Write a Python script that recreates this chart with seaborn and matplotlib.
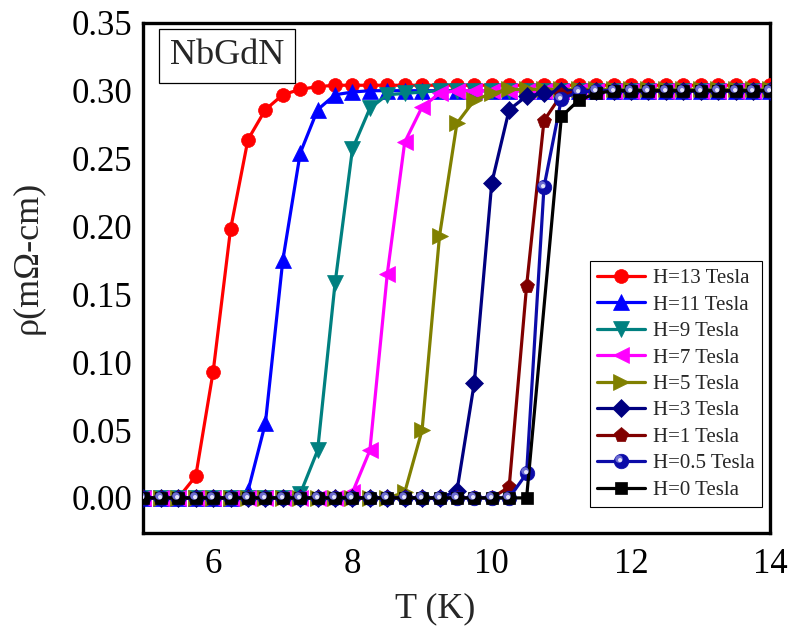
import matplotlib
matplotlib.use("Agg")
import matplotlib.pyplot as plt
import seaborn as sns
from matplotlib.ticker import MultipleLocator, FormatStrFormatter
from matplotlib.legend_handler import HandlerTuple
from matplotlib.path import Path

sns.set_style("white")
plt.rcParams["font.family"] = ["Liberation Serif", "DejaVu Serif"]

# ---------------- data ----------------
T = [5.0, 5.25, 5.5, 5.75, 6.0, 6.25, 6.5, 6.75, 7.0, 7.25, 7.5, 7.75, 8.0,
     8.25, 8.5, 8.75, 9.0, 9.25, 9.5, 9.75, 10.0, 10.25, 10.5, 10.75, 11.0,
     11.25, 11.5, 11.75, 12.0, 12.25, 12.5, 12.75, 13.0, 13.25, 13.5, 13.75, 14.0]

rho_13 = [0.0, 0.0, 0.0, 0.016, 0.093, 0.198, 0.264, 0.286, 0.297, 0.301, 0.303,
          0.304, 0.304, 0.304, 0.304, 0.304, 0.304, 0.304, 0.304, 0.304, 0.304,
          0.304, 0.304, 0.304, 0.304, 0.304, 0.304, 0.304, 0.304, 0.304, 0.304,
          0.304, 0.304, 0.304, 0.304, 0.304, 0.304]
rho_11 = [0.0, 0.0, 0.0, 0.0, 0.0, 0.0, 0.005, 0.055, 0.175, 0.254, 0.286, 0.297,
          0.299, 0.300, 0.300, 0.300, 0.300, 0.300, 0.300, 0.300, 0.300, 0.300,
          0.300, 0.300, 0.300, 0.300, 0.300, 0.300, 0.300, 0.300, 0.300, 0.300,
          0.300, 0.300, 0.300, 0.300, 0.300]
rho_9 = [0.0, 0.0, 0.0, 0.0, 0.0, 0.0, 0.0, 0.0, 0.0, 0.003, 0.035, 0.158, 0.257,
         0.287, 0.297, 0.298, 0.299, 0.300, 0.300, 0.300, 0.300, 0.300, 0.300,
         0.300, 0.300, 0.300, 0.300, 0.300, 0.300, 0.300, 0.300, 0.300, 0.300,
         0.300, 0.300, 0.300, 0.300]
rho_7 = [0.0, 0.0, 0.0, 0.0, 0.0, 0.0, 0.0, 0.0, 0.0, 0.0, 0.0, 0.0, 0.004, 0.035,
         0.165, 0.262, 0.288, 0.298, 0.300, 0.300, 0.300, 0.300, 0.300, 0.300,
         0.300, 0.300, 0.300, 0.300, 0.300, 0.300, 0.300, 0.300, 0.300, 0.300,
         0.300, 0.300, 0.300]
rho_5 = [0.0, 0.0, 0.0, 0.0, 0.0, 0.0, 0.0, 0.0, 0.0, 0.0, 0.0, 0.0, 0.0, 0.0,
         0.0, 0.004, 0.050, 0.193, 0.276, 0.293, 0.298, 0.301, 0.301, 0.301,
         0.301, 0.301, 0.301, 0.301, 0.301, 0.301, 0.301, 0.301, 0.301, 0.301,
         0.301, 0.301, 0.301]
rho_3 = [0.0, 0.0, 0.0, 0.0, 0.0, 0.0, 0.0, 0.0, 0.0, 0.0, 0.0, 0.0, 0.0, 0.0,
         0.0, 0.0, 0.0, 0.0, 0.005, 0.085, 0.232, 0.286, 0.296, 0.298, 0.300,
         0.300, 0.300, 0.300, 0.300, 0.300, 0.300, 0.300, 0.300, 0.300, 0.300,
         0.300, 0.300]
rho_1 = [0.0, 0.0, 0.0, 0.0, 0.0, 0.0, 0.0, 0.0, 0.0, 0.0, 0.0, 0.0, 0.0, 0.0,
         0.0, 0.0, 0.0, 0.0, 0.0, 0.0, 0.0, 0.008, 0.156, 0.278, 0.297, 0.300,
         0.300, 0.300, 0.300, 0.300, 0.300, 0.300, 0.300, 0.300, 0.300, 0.300,
         0.300]
rho_05 = [0.0, 0.0, 0.0, 0.0, 0.0, 0.0, 0.0, 0.0, 0.0, 0.0, 0.0, 0.0, 0.0, 0.0,
          0.0, 0.0, 0.0, 0.0, 0.0, 0.0, 0.0, 0.0, 0.018, 0.229, 0.294, 0.299,
          0.300, 0.300, 0.300, 0.300, 0.300, 0.300, 0.300, 0.300, 0.300, 0.300,
          0.300]
T_0 = [5.0, 5.25, 5.5, 5.75, 6.0, 6.25, 6.5, 6.75, 7.0, 7.25, 7.5, 7.75, 8.0,
       8.25, 8.5, 8.75, 9.0, 9.25, 9.5, 9.75, 10.0, 10.25, 10.5, 11.0, 11.25,
       11.5, 11.75, 12.0, 12.25, 12.5, 12.75, 13.0, 13.25, 13.5, 13.75, 14.0]
rho_0 = [0.0, 0.0, 0.0, 0.0, 0.0, 0.0, 0.0, 0.0, 0.0, 0.0, 0.0, 0.0, 0.0, 0.0,
         0.0, 0.0, 0.0, 0.0, 0.0, 0.0, 0.0, 0.0, 0.0, 0.281, 0.293, 0.298,
         0.300, 0.300, 0.300, 0.300, 0.300, 0.300, 0.300, 0.300, 0.300, 0.300]

labels = ["H=13 Tesla", "H=11 Tesla", "H=9 Tesla", "H=7 Tesla", "H=5 Tesla",
          "H=3 Tesla", "H=1 Tesla", "H=0.5 Tesla", "H=0 Tesla"]
colors = ["#ff0000", "#0000ff", "#008080", "#ff00ff", "#808000",
          "#000080", "#800000", "#0c0ca8", "#000000"]
markers = ["o", "^", "v", "<", ">", "D", "p", "o", "s"]
msizes = [10, 11, 11, 11, 11, 9, 11, 10.5, 8.5]
xs = [T, T, T, T, T, T, T, T, T_0]
ys = [rho_13, rho_11, rho_9, rho_7, rho_5, rho_3, rho_1, rho_05, rho_0]

# ---------------- figure ----------------
fig = plt.figure(figsize=(7.95, 6.34), dpi=100)
ax = fig.add_axes([0.1805, 0.159, 0.969 - 0.1805, 0.964 - 0.159])

draw_order = [0, 1, 2, 3, 4, 5, 6, 8, 7]
handles = [None] * 9
for i in draw_order:
    sns.lineplot(x=xs[i], y=ys[i], ax=ax, color=colors[i], marker=markers[i],
                 markersize=msizes[i], markeredgecolor=colors[i],
                 markeredgewidth=0.5, linewidth=2.3, legend=False,
                 zorder=3 + i)
    handles[i] = ax.lines[-1]

# sphere highlight for H=0.5 Tesla markers
hl_path = Path.circle(center=(-0.12, 0.12), radius=0.18)
halo = ax.plot(T, rho_05, linestyle="None", marker=hl_path, markersize=9,
               color="#6c6cd2", markeredgewidth=0, zorder=20)[0]
spot = ax.plot(T, rho_05, linestyle="None", marker=hl_path, markersize=5,
               color="#e6e6f8", markeredgewidth=0, zorder=21)[0]
handles[7] = (handles[7], halo, spot)

ax.set_xlim(5, 14)
ax.set_ylim(-0.026, 0.35)
ax.xaxis.set_major_locator(MultipleLocator(2))
ax.xaxis.set_minor_locator(MultipleLocator(0.4))
ax.yaxis.set_major_locator(MultipleLocator(0.05))
ax.yaxis.set_minor_locator(MultipleLocator(0.01))
ax.yaxis.set_major_formatter(FormatStrFormatter("%.2f"))
ax.tick_params(which="both", direction="in", top=False, right=False,
               width=2.2, labelsize=25, colors="black")
ax.tick_params(which="major", length=6.5)
ax.tick_params(which="minor", length=3.5)
ax.tick_params(axis="y", which="major", pad=8)
ax.tick_params(axis="x", which="major", pad=11)
for s in ax.spines.values():
    s.set_linewidth(2.4)
    s.set_color("black")

ax.set_xlabel("T (K)", fontsize=26)
ax.xaxis.set_label_coords(0.465, -0.115)
ax.set_ylabel("ρ(mΩ-cm)", fontsize=26)
ax.yaxis.set_label_coords(-0.157, 0.541)

ax.text(0.133, 0.935, "NbGdN", transform=ax.transAxes, fontsize=26,
        ha="center", va="center",
        bbox=dict(boxstyle="square,pad=0.3", fc="white", ec="black", lw=0.9))

leg = ax.legend(handles, labels, loc="lower right",
                bbox_to_anchor=(0.986, 0.051), borderaxespad=0, fontsize=15,
                frameon=True, fancybox=False, edgecolor="black", framealpha=1,
                numpoints=1, handlelength=2.3, handletextpad=0.35,
                labelspacing=0.33, borderpad=0.35,
                handler_map={tuple: HandlerTuple(ndivide=1, pad=0)})
leg.get_frame().set_linewidth(0.8)
leg.set_zorder(30)

fig.savefig("out.png", dpi=100)
